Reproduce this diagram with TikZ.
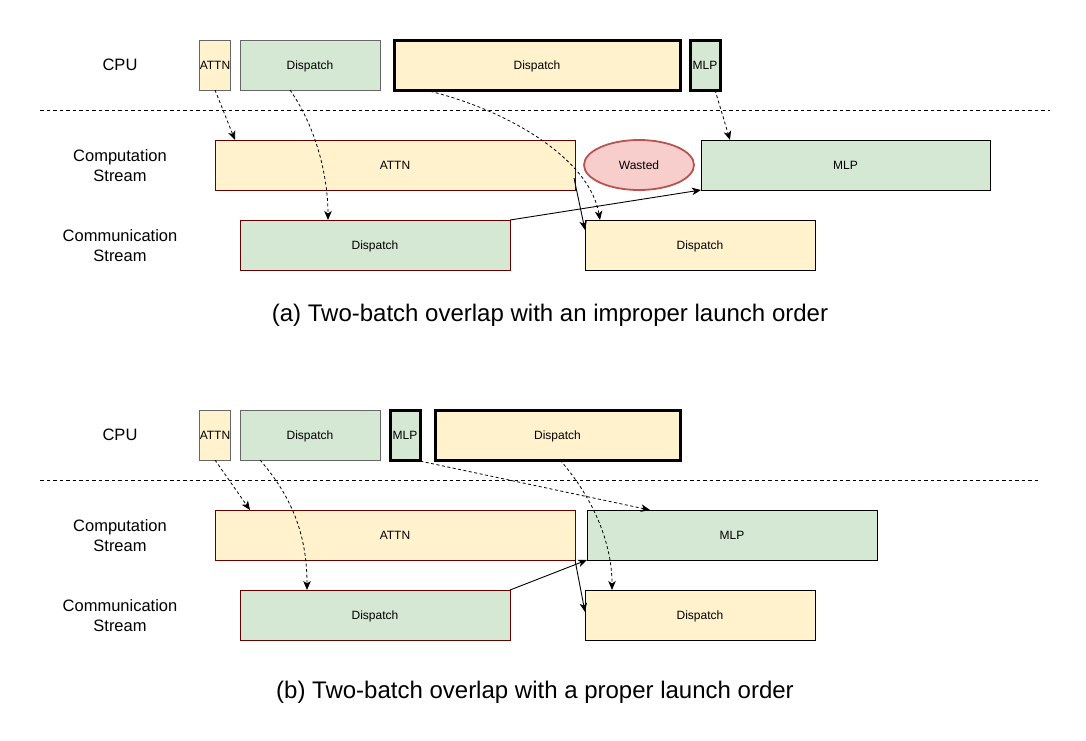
\documentclass[tikz,border=0pt]{standalone}
\usepackage{fontspec}
\setmainfont{Liberation Sans}
\usepackage{xcolor}
\usetikzlibrary{arrows.meta,shapes.geometric}

\definecolor{yfill}{HTML}{FFF2CC}
\definecolor{gfill}{HTML}{D5E8D4}
\definecolor{rfill}{HTML}{F8CECC}
\definecolor{rline}{HTML}{B85450}
\definecolor{darkred}{HTML}{660000}

\tikzset{
    box/.style={rectangle, draw=black, line width=0.8pt, inner sep=0pt, outer sep=0pt,
        minimum height=50pt, text height=8.6pt, text depth=0pt, font=\fontsize{12}{14}\selectfont},
    ybox/.style={box, fill=yfill},
    gbox/.style={box, fill=gfill},
    thin gray/.style={draw=black!60},
    thin red/.style={draw=darkred},
    launch/.style={line width=3pt},
    rowlabel/.style={align=center, font=\fontsize{16.5}{20}\selectfont},
    caption/.style={font=\fontsize{24}{28}\selectfont},
    dep/.style={-{Stealth[length=9pt,width=7.5pt,inset=2.5pt]}, line width=0.8pt, dash pattern=on 3pt off 2.5pt},
    sync/.style={-{Stealth[length=9pt,width=7.5pt,inset=2.5pt]}, line width=0.9pt},
}

\begin{document}
\begin{tikzpicture}[x=1pt,y=-1pt]
    \useasboundingbox (0,0) rectangle (1086,740);

    % (a) improper launch order
    \begin{scope}
        \node[rowlabel] (cpuA) at (120,65) {CPU};
        \node[rowlabel] (compA) at (120,166) {Computation\\Stream};
        \node[rowlabel] (commA) at (120,246) {Communication\\Stream};

        % CPU row
        \node[ybox, thin gray, minimum width=30pt] (cpuAttnA) at (215,65) {ATTN};
        \node[gbox, thin gray, minimum width=140pt] (cpuDispGA) at (310,65) {Dispatch};
        \node[ybox, launch, minimum width=286pt] (cpuDispYA) at (537,65) {Dispatch};
        \node[gbox, launch, minimum width=30pt] (cpuMlpA) at (705,65) {MLP};

        \draw[line width=0.8pt, dash pattern=on 3.5pt off 3pt] (40,110) -- (1050,110);

        % GPU streams
        \node[ybox, thin red, minimum width=360pt] (compAttnA) at (395,165) {ATTN};
        \node[ellipse, draw=rline, line width=1.8pt, fill=rfill, minimum width=110pt,
            minimum height=50pt, inner sep=0pt, text height=8.6pt, text depth=0pt,
            font=\fontsize{12}{14}\selectfont] (wasteA) at (639,165) {Wasted};
        \node[gbox, minimum width=289pt] (compMlpA) at (845.5,165) {MLP};
        \node[gbox, thin red, minimum width=270pt] (commDispGA) at (375,245) {Dispatch};
        \node[ybox, minimum width=230pt] (commDispYA) at (700,245) {Dispatch};

        % launches
        \draw[dep] (cpuAttnA.south) -- ([xshift=20pt]compAttnA.north west);
        \draw[dep] ([xshift=50pt]cpuDispGA.south west) .. controls (318,130) and (328,180) .. ([xshift=88pt]commDispGA.north west);
        \draw[dep] ([xshift=31pt]cpuDispYA.south west) .. controls (510,110) and (590,160) .. ([xshift=15pt]commDispYA.north west);
        \draw[dep] ([xshift=-5pt]cpuMlpA.south east) -- ([xshift=29pt]compMlpA.north west);

        % dependencies
        \draw[sync] (commDispGA.north east) -- (compMlpA.south west);
        \draw[sync] ([xshift=-1pt,yshift=-13pt]compAttnA.east) -- ([yshift=-10pt]commDispYA.north west);

        \node[caption] (capA) at (550,315) {(a) Two-batch overlap with an improper launch order};
    \end{scope}

    % (b) proper launch order
    \begin{scope}[shift={(0,370)}]
        \node[rowlabel] (cpuB) at (120,65) {CPU};
        \node[rowlabel] (compB) at (120,166) {Computation\\Stream};
        \node[rowlabel] (commB) at (120,246) {Communication\\Stream};

        % CPU row
        \node[ybox, thin gray, minimum width=30pt] (cpuAttnB) at (215,65) {ATTN};
        \node[gbox, thin gray, minimum width=140pt] (cpuDispGB) at (310,65) {Dispatch};
        \node[gbox, launch, minimum width=30pt] (cpuMlpB) at (405,65) {MLP};
        \node[ybox, launch, minimum width=245pt] (cpuDispYB) at (557.5,65) {Dispatch};

        \draw[line width=0.8pt, dash pattern=on 3.5pt off 3pt] (40,110) -- (1040,110);

        % GPU streams
        \node[ybox, thin red, minimum width=360pt] (compAttnB) at (395,165) {ATTN};
        \node[gbox, minimum width=290pt] (compMlpB) at (732,165) {MLP};
        \node[gbox, thin red, minimum width=270pt] (commDispGB) at (375,245) {Dispatch};
        \node[ybox, minimum width=230pt] (commDispYB) at (700,245) {Dispatch};

        % launches
        \draw[dep] (cpuAttnB.south) -- ([xshift=35pt]compAttnB.north west);
        \draw[dep] ([xshift=20pt]cpuDispGB.south west) .. controls (295,130) and (307,170) .. ([xshift=67pt]commDispGB.north west);
        \draw[dep] ([xshift=-5pt]cpuMlpB.south east) -- ([xshift=63pt]compMlpB.north west);
        \draw[dep] ([xshift=2.5pt]cpuDispYB.south) .. controls (595,130) and (612,175) .. ([xshift=27pt]commDispYB.north west);

        % dependencies
        \draw[sync] (commDispGB.north east) -- (compMlpB.south west);
        \draw[sync] (compAttnB.south east) -- ([yshift=-22pt]commDispYB.north west);

        \node[caption] (capB) at (535,322) {(b) Two-batch overlap with a proper launch order};
    \end{scope}
\end{tikzpicture}
\end{document}
